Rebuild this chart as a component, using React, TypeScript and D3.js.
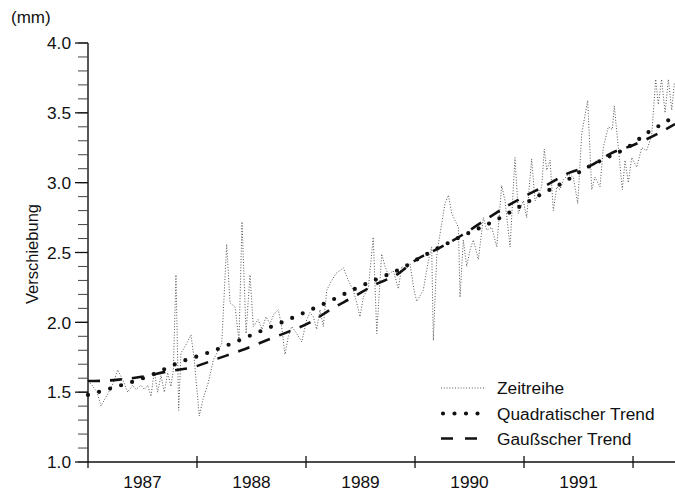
import React, { useEffect, useRef } from "react";
import * as d3 from "d3";

// x-axis: year boundaries and the labels centred between them
const yearTicks = [1987, 1988, 1989, 1990, 1991, 1992];
const yearLabels = ["1987", "1988", "1989", "1990", "1991"];
const yTickLabels = [1.0, 1.5, 2.0, 2.5, 3.0, 3.5, 4.0];

// Zeitreihe (decimal year, mm)
const zeitT = [
  1987.0, 1987.037, 1987.083, 1987.119, 1987.147, 1987.183, 1987.229, 1987.272, 1987.318, 1987.364,
  1987.41, 1987.44, 1987.486, 1987.517, 1987.548, 1987.578, 1987.608, 1987.639, 1987.67, 1987.7,
  1987.731, 1987.761, 1987.783, 1987.807, 1987.832, 1987.853, 1987.899, 1987.945, 1987.975, 1988.021,
  1988.055, 1988.104, 1988.15, 1988.227, 1988.272, 1988.303, 1988.349, 1988.385, 1988.413, 1988.45,
  1988.486, 1988.517, 1988.56, 1988.596, 1988.633, 1988.67, 1988.706, 1988.746, 1988.777, 1988.807,
  1988.838, 1988.869, 1988.915, 1988.961, 1989.006, 1989.037, 1989.067, 1989.098, 1989.128, 1989.159,
  1989.19, 1989.236, 1989.275, 1989.312, 1989.342, 1989.388, 1989.434, 1989.465, 1989.495, 1989.526,
  1989.572, 1989.617, 1989.649, 1989.694, 1989.725, 1989.755, 1989.801, 1989.847, 1989.878, 1989.917,
  1989.954, 1989.991, 1990.016, 1990.076, 1990.122, 1990.153, 1990.168, 1990.199, 1990.214, 1990.275,
  1990.306, 1990.337, 1990.367, 1990.398, 1990.413, 1990.443, 1990.474, 1990.505, 1990.535, 1990.581,
  1990.627, 1990.658, 1990.704, 1990.75, 1990.795, 1990.826, 1990.872, 1990.917, 1990.948, 1990.994,
  1991.024, 1991.07, 1991.101, 1991.162, 1991.186, 1991.208, 1991.239, 1991.269, 1991.3, 1991.33,
  1991.361, 1991.406, 1991.452, 1991.493, 1991.529, 1991.584, 1991.621, 1991.651, 1991.697, 1991.727,
  1991.773, 1991.81, 1991.828, 1991.865, 1991.902, 1991.927, 1991.957, 1991.988, 1992.034, 1992.079,
  1992.125, 1992.171, 1992.208, 1992.232, 1992.262, 1992.294, 1992.324, 1992.355, 1992.379,
];
const zeitV = [
  1.58, 1.55, 1.5, 1.4, 1.44, 1.49, 1.56, 1.66, 1.59, 1.5,
  1.55, 1.52, 1.55, 1.52, 1.55, 1.47, 1.65, 1.5, 1.62, 1.5,
  1.64, 1.54, 1.66, 2.34, 1.37, 1.78, 1.84, 1.91, 1.73, 1.33,
  1.45, 1.57, 1.73, 1.85, 2.56, 2.14, 2.11, 1.87, 2.72, 1.92,
  2.34, 1.97, 2.02, 1.95, 2.04, 1.99, 2.06, 2.09, 1.97, 1.77,
  1.9, 1.97, 1.92, 1.86, 2.02, 2.07, 2.04, 1.95, 2.09, 1.97,
  2.23, 2.3, 2.35, 2.37, 2.39, 2.3, 2.23, 2.14, 2.04, 2.18,
  2.25, 2.61, 1.92, 2.49, 2.4, 2.34, 2.37, 2.24, 2.4, 2.38,
  2.42, 2.23, 2.15, 2.23, 2.44, 2.54, 1.87, 2.47, 2.56, 2.85,
  2.91, 2.78, 2.73, 2.68, 2.18, 2.59, 2.4, 2.52, 2.59, 2.45,
  2.75, 2.66, 2.68, 2.54, 2.98, 2.87, 2.54, 3.18, 2.78, 2.87,
  2.75, 3.17, 2.87, 2.97, 3.24, 3.09, 3.16, 2.8, 2.97, 2.95,
  3.02, 3.06, 3.04, 2.85, 3.35, 3.59, 2.95, 3.04, 2.97, 3.25,
  3.4, 3.38, 3.55, 3.25, 2.95, 3.16, 3.0, 3.18, 3.11, 3.25,
  3.23, 3.34, 3.74, 3.56, 3.74, 3.5, 3.74, 3.52, 3.71,
];

// Quadratischer Trend
const quadT = [
  1987.0, 1987.22, 1987.541, 1987.862, 1988.092, 1988.624, 1988.927, 1989.239, 1989.45, 1989.651,
  1989.862, 1990.064, 1990.385, 1990.761, 1990.963, 1991.165, 1991.358, 1991.56, 1991.761, 1991.945,
  1992.138, 1992.33, 1992.385,
];
const quadV = [
  1.48, 1.53, 1.61, 1.72, 1.78, 1.95, 2.05, 2.16, 2.24, 2.31,
  2.38, 2.47, 2.6, 2.74, 2.83, 2.92, 3.0, 3.1, 3.18, 3.25,
  3.36, 3.45, 3.48,
];

// Gaußscher Trend
const gaussT = [
  1987.0, 1987.064, 1987.284, 1987.491, 1987.739, 1987.968, 1988.188, 1988.408, 1988.633, 1988.83,
  1989.037, 1989.243, 1989.431, 1989.633, 1989.83, 1990.014, 1990.216, 1990.422, 1990.619, 1990.817,
  1991.0, 1991.202, 1991.413, 1991.606, 1991.798, 1992.005, 1992.225, 1992.385,
];
const gaussV = [
  1.58, 1.58, 1.59, 1.61, 1.65, 1.68, 1.74, 1.8, 1.87, 1.93,
  2.0, 2.1, 2.18, 2.27, 2.34, 2.45, 2.53, 2.62, 2.72, 2.82,
  2.9, 2.98, 3.07, 3.12, 3.21, 3.27, 3.35, 3.42,
];

const legendLabels = ["Zeitreihe", "Quadratischer Trend", "Gaußscher Trend"];

const FONT = "'Liberation Sans', Arial, Helvetica, sans-serif";

export default function App() {
  const svgRef = useRef<SVGSVGElement>(null);

  useEffect(() => {
    if (!svgRef.current) return;
    const svg = d3.select(svgRef.current);
    svg.selectAll("*").remove();

    const x = d3.scaleLinear().domain([1987, 1992.385]).range([88, 675]);
    const y = d3.scaleLinear().domain([1, 4]).range([462, 43]);

    const g = svg.append("g").attr("font-family", FONT).attr("fill", "#111");

    // y axis
    g.append("line")
      .attr("x1", 88).attr("x2", 88)
      .attr("y1", y(4)).attr("y2", y(1))
      .attr("stroke", "#111").attr("stroke-width", 1.4);

    g.selectAll(".minor")
      .data(d3.range(1, 4.001, 0.1))
      .enter()
      .append("line")
      .attr("x1", 78).attr("x2", 88)
      .attr("y1", (d) => y(d)).attr("y2", (d) => y(d))
      .attr("stroke", "#444").attr("stroke-width", 1);

    g.selectAll(".major")
      .data(yTickLabels)
      .enter()
      .append("line")
      .attr("x1", 75).attr("x2", 88)
      .attr("y1", (d) => y(d)).attr("y2", (d) => y(d))
      .attr("stroke", "#111").attr("stroke-width", 1.3);

    g.selectAll(".ylab")
      .data(yTickLabels)
      .enter()
      .append("text")
      .attr("x", 71)
      .attr("y", (d) => y(d))
      .attr("dy", "0.36em")
      .attr("text-anchor", "end")
      .attr("font-size", 17.3)
      .text((d) => d3.format(".1f")(d));

    g.append("text")
      .attr("x", 11).attr("y", 23)
      .attr("font-size", 17)
      .text("(mm)");

    g.append("text")
      .attr("transform", `translate(38,${254}) rotate(-90)`)
      .attr("text-anchor", "middle")
      .attr("font-size", 16.5)
      .text("Verschiebung");

    // x axis
    g.append("line")
      .attr("x1", 88).attr("x2", 675)
      .attr("y1", y(1)).attr("y2", y(1))
      .attr("stroke", "#111").attr("stroke-width", 1.4);

    g.selectAll(".xtick")
      .data(yearTicks)
      .enter()
      .append("line")
      .attr("x1", (d) => x(d)).attr("x2", (d) => x(d))
      .attr("y1", (d, i) => (i === 0 ? y(1) : y(1) - 6))
      .attr("y2", y(1) + 6)
      .attr("stroke", "#111").attr("stroke-width", 1.3);

    g.selectAll(".xlab")
      .data(yearLabels)
      .enter()
      .append("text")
      .attr("x", (d) => x(+d + 0.5))
      .attr("y", 488)
      .attr("text-anchor", "middle")
      .attr("font-size", 17.3)
      .text((d) => d);

    // series
    const zeit = zeitT.map((t, i) => [t, zeitV[i]] as [number, number]);
    const quad = quadT.map((t, i) => [t, quadV[i]] as [number, number]);
    const gauss = gaussT.map((t, i) => [t, gaussV[i]] as [number, number]);

    const line = d3.line<[number, number]>().x((d) => x(d[0])).y((d) => y(d[1]));
    const smooth = d3
      .line<[number, number]>()
      .x((d) => x(d[0]))
      .y((d) => y(d[1]))
      .curve(d3.curveMonotoneX);

    g.append("path")
      .attr("d", line(zeit))
      .attr("fill", "none")
      .attr("stroke", "#555")
      .attr("stroke-width", 1)
      .attr("stroke-dasharray", "1 1.8");

    g.append("path")
      .attr("d", smooth(gauss))
      .attr("fill", "none")
      .attr("stroke", "#111")
      .attr("stroke-width", 2.6)
      .attr("stroke-dasharray", "12 10");

    g.append("path")
      .attr("d", smooth(quad))
      .attr("fill", "none")
      .attr("stroke", "#111")
      .attr("stroke-width", 4.2)
      .attr("stroke-linecap", "round")
      .attr("stroke-dasharray", "0 11.5");

    // legend
    const leg = g.append("g");
    leg.append("line")
      .attr("x1", 441).attr("x2", 486).attr("y1", 388).attr("y2", 388)
      .attr("stroke", "#555").attr("stroke-width", 1).attr("stroke-dasharray", "1 1.8");
    leg.append("line")
      .attr("x1", 443).attr("x2", 480).attr("y1", 413.5).attr("y2", 413.5)
      .attr("stroke", "#111").attr("stroke-width", 4.2)
      .attr("stroke-linecap", "round").attr("stroke-dasharray", "0 11.5");
    leg.append("line")
      .attr("x1", 441).attr("x2", 479).attr("y1", 438.5).attr("y2", 438.5)
      .attr("stroke", "#111").attr("stroke-width", 2.6).attr("stroke-dasharray", "12 12");

    leg.selectAll(".ltxt")
      .data(legendLabels)
      .enter()
      .append("text")
      .attr("x", 497)
      .attr("y", (d, i) => 394 + i * 25.5)
      .attr("font-size", 17.3)
      .text((d) => d);
  }, []);

  return (
    <svg
      ref={svgRef}
      width={675}
      height={495}
      style={{ position: "absolute", left: 0, top: 0, background: "#fff" }}
    />
  );
}
